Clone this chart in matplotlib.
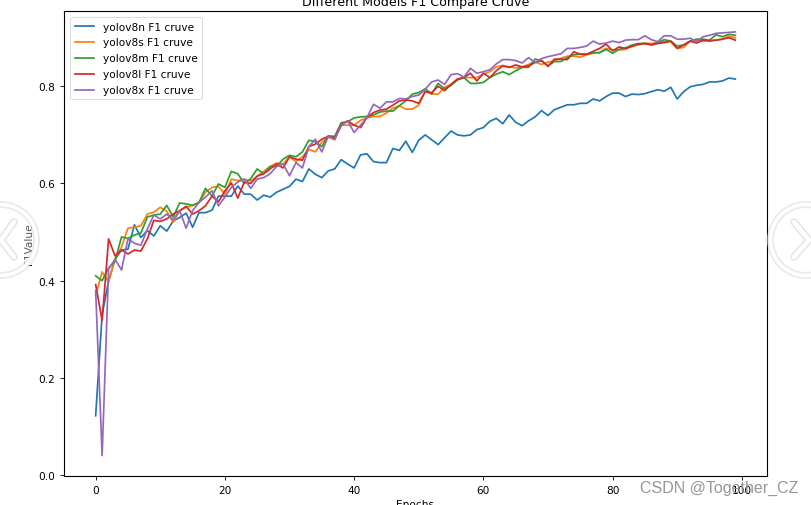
import numpy as np
import matplotlib
matplotlib.use('Agg')
import matplotlib.pyplot as plt
from matplotlib.patches import Circle

# F1 values per epoch
yolov8n = [.122,.33,.40,.444,.463,.465,.515,.489,.503,.492,.513,.502,.523,.53,.539,.51,.54,.54,.545,.574,
           .574,.574,.595,.578,.578,.566,.576,.572,.582,.588,.594,.609,.604,.63,.619,.612,.626,.63,.649,.64,
           .632,.659,.661,.645,.643,.643,.672,.668,.687,.664,.689,.70,.69,.68,.694,.708,.70,.698,.70,.711,
           .715,.728,.734,.723,.741,.726,.719,.729,.737,.75,.74,.752,.757,.762,.762,.765,.765,.774,.77,.779,
           .786,.786,.779,.784,.783,.785,.789,.793,.79,.798,.774,.789,.799,.802,.804,.809,.809,.811,.817,.815]
yolov8s = [.37,.418,.397,.444,.469,.508,.51,.513,.537,.541,.551,.543,.52,.544,.551,.555,.561,.582,.592,.594,
           .578,.609,.606,.609,.605,.615,.625,.635,.642,.64,.655,.645,.655,.67,.665,.685,.695,.69,.72,.72,
           .72,.73,.735,.738,.738,.745,.755,.76,.753,.753,.761,.79,.784,.784,.798,.804,.815,.818,.818,.818,
           .825,.83,.84,.843,.84,.838,.84,.845,.85,.845,.85,.852,.858,.862,.862,.86,.865,.868,.87,.878,
           .875,.875,.876,.883,.885,.889,.888,.89,.892,.892,.878,.88,.893,.895,.893,.895,.895,.897,.903,.90]
yolov8m = [.41,.40,.426,.44,.49,.487,.494,.498,.531,.535,.537,.555,.531,.56,.558,.555,.561,.59,.574,.599,
           .592,.625,.62,.60,.61,.63,.62,.635,.635,.65,.658,.655,.665,.689,.686,.676,.698,.697,.725,.727,
           .735,.737,.738,.741,.747,.749,.749,.76,.77,.784,.787,.795,.784,.806,.795,.802,.813,.818,.806,.806,
           .808,.818,.825,.83,.824,.832,.839,.839,.856,.853,.842,.851,.851,.859,.865,.866,.866,.869,.869,.876,
           .868,.876,.879,.885,.888,.888,.886,.89,.896,.893,.883,.885,.893,.897,.897,.895,.906,.902,.907,.905]
yolov8l = [.392,.318,.486,.451,.463,.455,.463,.461,.486,.524,.522,.527,.537,.544,.553,.537,.544,.554,.574,.562,
           .585,.601,.57,.603,.60,.615,.62,.63,.64,.632,.655,.65,.648,.676,.681,.691,.697,.694,.721,.729,
           .72,.715,.736,.746,.751,.753,.761,.77,.772,.77,.765,.789,.787,.80,.791,.804,.815,.818,.827,.811,
           .827,.818,.832,.842,.839,.844,.84,.842,.849,.853,.841,.856,.856,.855,.871,.866,.866,.872,.878,.887,
           .873,.881,.878,.882,.887,.888,.885,.888,.89,.893,.878,.885,.893,.889,.895,.893,.895,.897,.90,.895]
yolov8x = [.379,.04,.424,.444,.422,.486,.477,.473,.506,.535,.527,.537,.525,.544,.508,.544,.561,.572,.585,.554,
           .572,.592,.603,.609,.59,.609,.612,.62,.635,.64,.616,.643,.632,.676,.691,.665,.697,.691,.719,.729,
           .705,.72,.736,.763,.755,.768,.768,.775,.774,.779,.782,.794,.809,.813,.804,.824,.826,.819,.837,.827,
           .83,.834,.846,.855,.855,.853,.848,.859,.849,.857,.861,.864,.867,.878,.878,.88,.883,.893,.887,.889,
           .893,.89,.895,.896,.896,.904,.896,.892,.904,.904,.897,.897,.899,.892,.902,.905,.909,.91,.911,.912]

series = [yolov8n, yolov8s, yolov8m, yolov8l, yolov8x]
names = ['yolov8n F1 cruve', 'yolov8s F1 cruve', 'yolov8m F1 cruve', 'yolov8l F1 cruve', 'yolov8x F1 cruve']
epochs = np.arange(100)

# the screenshot is a shrunken default figure, so everything scales by about 0.76
k = 0.76
plt.rcParams.update({
    'font.size': 10 * k,
    'axes.titlesize': 12 * k,
    'axes.labelsize': 10 * k,
    'axes.linewidth': 0.8 * k + 0.2,
    'lines.linewidth': 1.5 * k + 0.1,
    'xtick.major.size': 3.5 * k,
    'ytick.major.size': 3.5 * k,
    'xtick.major.width': 0.8 * k,
    'ytick.major.width': 0.8 * k,
    'xtick.labelsize': 10 * k,
    'ytick.labelsize': 10 * k,
    'axes.titlepad': 6 * k,
    'axes.labelpad': 4 * k,
    'patch.linewidth': 0.8 * k,
})

W, H = 812, 506
fig = plt.figure(figsize=(W / 100, H / 100), dpi=100)
ax = fig.add_axes([64 / W, 1 - 477 / H, (767 - 64) / W, (477 - 12) / H])

for vals, name in zip(series, names):
    ax.plot(epochs, vals, label=name)

ax.set_xlim(-4.9, 103.9)
ax.set_ylim(-0.002, 0.955)
ax.set_title('Different Models F1 Compare Cruve')
ax.set_xlabel('Epochs')
ax.set_ylabel('F1Value')
ax.legend(loc='upper left', labelspacing=0.56, handlelength=1.85, borderaxespad=0.6)

# page overlay on top of the screenshot: carousel buttons and watermark
over = fig.add_axes([0, 0, 1, 1], facecolor='none')
over.set_xlim(0, W)
over.set_ylim(H, 0)
over.axis('off')
for cx, sign in [(1, 1), (806, -1)]:
    over.add_patch(Circle((cx, 241), 36, facecolor='white', alpha=0.35, edgecolor='none'))
    over.add_patch(Circle((cx, 241), 35.5, facecolor='none', edgecolor='#dcdcdc', lw=5, alpha=0.6))
    over.add_patch(Circle((cx, 241), 35.5, facecolor='none', edgecolor='white', lw=2.5))
    xs = [cx + sign * 13, cx + sign * 0, cx + sign * 13]
    if sign < 0:
        xs = [794, 809, 794]
    over.plot(xs, [223, 241, 258], color='#dcdcdc', lw=5.5, alpha=0.7, solid_capstyle='round')
    over.plot(xs, [223, 241, 258], color='white', lw=3.2, solid_capstyle='round')
over.text(719, 488, 'CSDN @Together_CZ', color='#8c8c8c', fontsize=11.5, family='Liberation Sans',
          ha='center', va='center', alpha=0.9)

fig.savefig('out.png', dpi=100)
